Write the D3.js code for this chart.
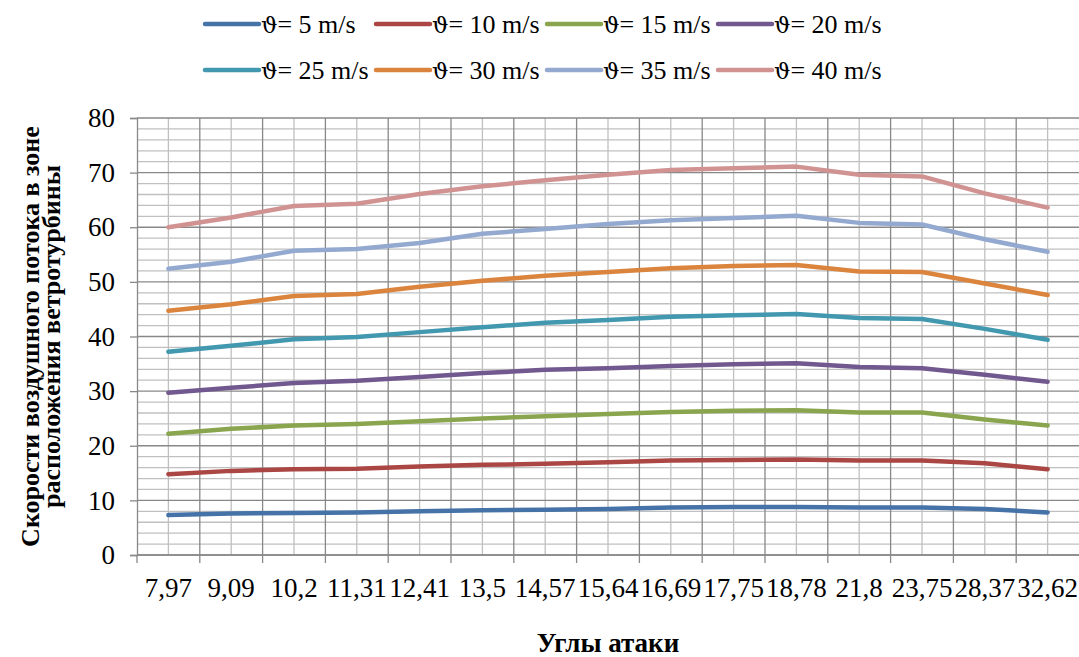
<!DOCTYPE HTML>
<html>
<head>
    <meta charset="utf-8">
    <title>Скорости воздушного потока</title>
    <script src="https://cdn.jsdelivr.net/npm/d3@7"></script>
    <style>
        body { margin: 0; background: #fff; }
        svg text { font-family: "Liberation Serif", "Times New Roman", serif; fill: #000; }
    </style>
</head>
<body>
<div id="chart"></div>
<script>
    const width = 1079, height = 657;
    const margin = { top: 118, right: 0, bottom: 102, left: 137 };

    // angles of attack (category labels)
    const angles = ["7,97", "9,09", "10,2", "11,31", "12,41", "13,5", "14,57", "15,64",
        "16,69", "17,75", "18,78", "21,8", "23,75", "28,37", "32,62"];

    const speeds = [5, 10, 15, 20, 25, 30, 35, 40];

    const v5 = [7.3, 7.6, 7.7, 7.8, 8.0, 8.2, 8.3, 8.4, 8.7, 8.8, 8.8, 8.7, 8.7, 8.4, 7.8];
    const v10 = [14.8, 15.4, 15.7, 15.8, 16.2, 16.5, 16.7, 17.0, 17.3, 17.4, 17.5, 17.3, 17.3, 16.8, 15.7];
    const v15 = [22.2, 23.1, 23.7, 24.0, 24.5, 25.0, 25.4, 25.8, 26.2, 26.4, 26.5, 26.1, 26.1, 24.8, 23.7];
    const v20 = [29.7, 30.6, 31.5, 31.9, 32.6, 33.3, 33.9, 34.2, 34.6, 34.9, 35.1, 34.4, 34.2, 33.0, 31.7];
    const v25 = [37.2, 38.3, 39.5, 39.9, 40.8, 41.7, 42.5, 43.0, 43.6, 43.9, 44.1, 43.4, 43.2, 41.4, 39.4];
    const v30 = [44.7, 45.9, 47.4, 47.8, 49.1, 50.2, 51.1, 51.8, 52.5, 52.9, 53.1, 51.9, 51.8, 49.7, 47.6];
    const v35 = [52.4, 53.7, 55.7, 56.0, 57.1, 58.8, 59.7, 60.6, 61.3, 61.7, 62.1, 60.8, 60.5, 57.8, 55.5];
    const v40 = [60.0, 61.8, 63.9, 64.3, 66.1, 67.5, 68.6, 69.6, 70.5, 70.8, 71.1, 69.6, 69.3, 66.2, 63.6];

    const seriesValues = [v5, v10, v15, v20, v25, v30, v35, v40];
    const colors = ["#4572A7", "#AA4643", "#89A54E", "#71588F", "#4198AF", "#DB843D", "#93A9CF", "#D19392"];

    const yMajor = d3.range(0, 81, 10);
    const yMinor = d3.range(0, 81, 2).filter(d => d % 10 != 0);

    const svg = d3.select("#chart").append("svg")
        .attr("width", width)
        .attr("height", height);

    const x = d3.scaleBand()
        .domain(angles)
        .range([margin.left, width - margin.right])
        .padding(0);

    const y = d3.scaleLinear()
        .domain([0, 80])
        .range([height - margin.bottom, margin.top]);

    const xc = d => x(d) + x.bandwidth() / 2;

    // grid: minor first, then major
    const grid = svg.append("g");
    grid.selectAll(".hmin").data(yMinor).join("line")
        .attr("x1", margin.left).attr("x2", width - margin.right)
        .attr("y1", d => y(d)).attr("y2", d => y(d))
        .attr("stroke", "#c0c0c0").attr("stroke-width", 1.3);
    grid.selectAll(".vmin").data(angles).join("line")
        .attr("x1", d => xc(d)).attr("x2", d => xc(d))
        .attr("y1", y(0)).attr("y2", y(80))
        .attr("stroke", "#c0c0c0").attr("stroke-width", 1.3);
    grid.selectAll(".hmaj").data(yMajor).join("line")
        .attr("x1", margin.left).attr("x2", width - margin.right)
        .attr("y1", d => y(d)).attr("y2", d => y(d))
        .attr("stroke", "#888").attr("stroke-width", 1.3);
    grid.selectAll(".vmaj").data(angles.slice(1)).join("line")
        .attr("x1", d => x(d)).attr("x2", d => x(d))
        .attr("y1", y(0)).attr("y2", y(80))
        .attr("stroke", "#888").attr("stroke-width", 1.3);

    // y axis
    const yAxis = svg.append("g")
        .attr("transform", `translate(${margin.left},0)`)
        .call(d3.axisLeft(y).tickValues(yMajor).tickSize(7).tickPadding(15));
    yAxis.select(".domain").attr("stroke", "#888").attr("stroke-width", 1.3);
    yAxis.selectAll(".tick line").attr("stroke", "#888").attr("stroke-width", 1.3);
    yAxis.selectAll(".tick text")
        .attr("font-family", "Liberation Serif, serif")
        .attr("font-size", 27);

    // x axis: ticks at category boundaries
    const xAxis = svg.append("g")
        .attr("transform", `translate(0,${y(0)})`);
    xAxis.append("line")
        .attr("x1", margin.left).attr("x2", width - margin.right)
        .attr("stroke", "#888").attr("stroke-width", 1.3);
    xAxis.selectAll(".xt").data(angles).join("line")
        .attr("x1", d => x(d)).attr("x2", d => x(d))
        .attr("y1", 0).attr("y2", 8)
        .attr("stroke", "#888").attr("stroke-width", 1.3);
    xAxis.selectAll(".xl").data(angles).join("text")
        .attr("x", d => xc(d))
        .attr("y", 42)
        .attr("text-anchor", "middle")
        .attr("font-size", 27)
        .text(d => d);

    // lines
    const line = d3.line()
        .x((d, i) => xc(angles[i]))
        .y(d => y(d));

    svg.append("g").selectAll("path").data(seriesValues).join("path")
        .attr("d", d => line(d))
        .attr("fill", "none")
        .attr("stroke", (d, i) => colors[i])
        .attr("stroke-width", 4.5)
        .attr("stroke-linejoin", "round")
        .attr("stroke-linecap", "round");

    // legend (theta symbol as its own text so the rest stays in the serif font)
    const legX = [205, 376, 547, 718];
    const legY = [24, 70];
    const legend = svg.append("g");
    speeds.forEach((s, i) => {
        const lx = legX[i % 4], ly = legY[Math.floor(i / 4)];
        legend.append("line")
            .attr("x1", lx).attr("x2", lx + 54)
            .attr("y1", ly).attr("y2", ly)
            .attr("stroke", colors[i])
            .attr("stroke-width", 4.5)
            .attr("stroke-linecap", "round");
        const th = legend.append("text")
            .attr("x", lx + 56)
            .attr("y", ly + 9)
            .style("font-family", "'DejaVu Serif'")
            .attr("font-size", 23)
            .text("ϑ");
        const w = th.node().getComputedTextLength();
        legend.append("text")
            .attr("x", lx + 56 + w)
            .attr("y", ly + 9)
            .style("font-family", "'Liberation Serif'")
            .attr("font-size", 26)
            .text("= " + s + " m/s");
    });

    // axis titles
    svg.append("text")
        .attr("x", (margin.left + width) / 2)
        .attr("y", 652)
        .attr("text-anchor", "middle")
        .attr("font-size", 27)
        .attr("font-weight", "bold")
        .text("Углы атаки");

    const yTitle = svg.append("text")
        .attr("transform", `translate(0,${(y(0) + y(80)) / 2}) rotate(-90)`)
        .attr("text-anchor", "middle")
        .attr("font-size", 26)
        .attr("font-weight", "bold");
    yTitle.append("tspan").attr("x", 0).attr("y", 39).text("Скорости воздушного потока в зоне");
    yTitle.append("tspan").attr("x", 0).attr("y", 60).text("расположения ветротурбины");
</script>
</body>
</html>
